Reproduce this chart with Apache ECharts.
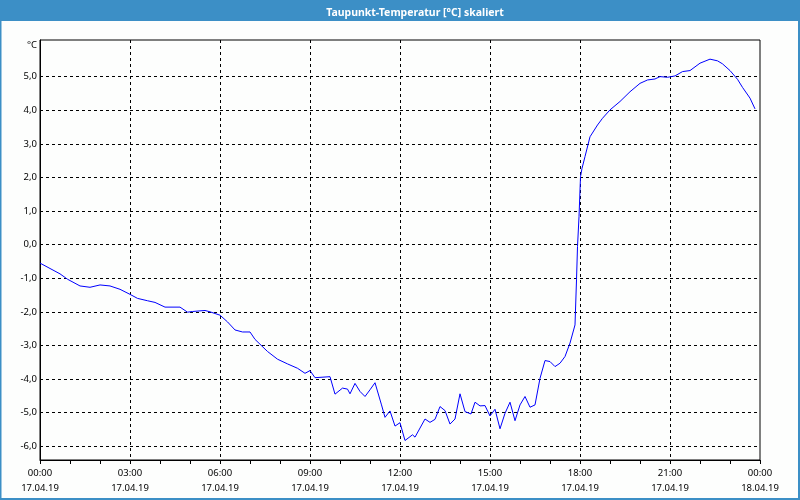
<!DOCTYPE html>
<html>
<head>
<meta charset="utf-8">
<script src="https://cdn.jsdelivr.net/npm/echarts@6/dist/echarts.min.js"></script>
<style>
html,body{margin:0;padding:0;background:#fdfefd;}
#chart{width:800px;height:500px;}
</style>
</head>
<body>
<div id="chart"></div>
<script>
// ---- data ----
const chartTitle = 'Taupunkt-Temperatur [°C] skaliert';
const unitLabel = '°C';
const dayLabels = ['17.04.19', '18.04.19'];
const xTickHours = [0, 3, 6, 9, 12, 15, 18, 21, 24];
const yTickValues = [-6, -5, -4, -3, -2, -1, 0, 1, 2, 3, 4, 5];
const times = [
  '00:00','00:40','00:55','01:20','01:40','02:00','02:20','02:40','03:00','03:15',
  '03:35','03:50','04:10','04:40','04:55','05:05','05:30','05:40','06:00','06:15',
  '06:30','06:45','07:00','07:10','07:35','07:55','08:15','08:35','08:50','09:00',
  '09:10','09:40','09:50','10:05','10:15','10:20','10:30','10:40','10:50','11:00',
  '11:10','11:23','11:30','11:40','11:50','12:00','12:10','12:25','12:30','12:50',
  '13:00','13:10','13:20','13:30','13:40','13:50','14:00','14:10','14:22','14:30',
  '14:40','14:50','15:00','15:10','15:20','15:30','15:40','15:50','16:00','16:10',
  '16:20','16:30','16:40','16:50','17:00','17:10','17:20','17:30','17:40','17:50',
  '17:53','17:55','17:58','18:01','18:04','18:10','18:20','18:35','18:45','19:00',
  '19:20','19:40','20:00','20:15','20:30','20:40','20:55','21:10','21:25','21:40',
  '22:00','22:20','22:35','22:45','23:00','23:15','23:25','23:40','23:50'
];
const dewPoint = [
  -0.55,-0.87,-1.03,-1.23,-1.27,-1.20,-1.23,-1.33,-1.48,-1.60,
  -1.67,-1.72,-1.86,-1.86,-2.01,-1.99,-1.96,-2.00,-2.10,-2.30,
  -2.54,-2.60,-2.60,-2.82,-3.18,-3.41,-3.55,-3.68,-3.83,-3.75,
  -3.96,-3.93,-4.45,-4.27,-4.30,-4.44,-4.13,-4.37,-4.52,-4.32,
  -4.11,-4.77,-5.14,-4.95,-5.40,-5.30,-5.83,-5.66,-5.73,-5.19,
  -5.29,-5.20,-4.82,-4.94,-5.34,-5.19,-4.44,-4.97,-5.04,-4.69,
  -4.80,-4.79,-5.10,-4.90,-5.48,-5.02,-4.69,-5.24,-4.77,-4.52,
  -4.84,-4.77,-3.98,-3.45,-3.48,-3.63,-3.53,-3.33,-2.93,-2.39,
  -1.05,-0.06,0.83,2.02,2.27,2.62,3.21,3.56,3.76,4.01,
  4.26,4.55,4.80,4.90,4.93,5.00,4.98,5.02,5.15,5.18,
  5.40,5.52,5.47,5.38,5.18,4.92,4.68,4.36,4.04
];

// ---- build ----
function toHours(t){ const p = t.split(':'); return (+p[0]) + (+p[1]) / 60; }
const seriesData = times.map((t, i) => [toHours(t), dewPoint[i]]);
const pad = n => (n < 10 ? '0' : '') + n;
const FONT = "'Noto Sans', 'DejaVu Sans', sans-serif";
const TXT = '#000';

const chart = echarts.init(document.getElementById('chart'), null, {renderer: 'canvas'});
chart.setOption({
  backgroundColor: '#fdfefd',
  animation: false,
  graphic: [
    {type: 'rect', shape: {x: 0, y: 0, width: 800, height: 21}, style: {fill: '#3c8fc6'}, z: -1},
    {type: 'rect', shape: {x: 0, y: 0, width: 1.5, height: 500}, style: {fill: '#3c8fc6'}, z: -1},
    {type: 'rect', shape: {x: 798, y: 0, width: 2, height: 500}, style: {fill: '#3c8fc6'}, z: -1},
    {type: 'rect', shape: {x: 0, y: 498, width: 800, height: 2}, style: {fill: '#3c8fc6'}, z: -1}
  ],
  title: {
    text: chartTitle,
    left: 410, top: 3, textAlign: 'center',
    textStyle: {color: '#ffffff', fontFamily: FONT, fontSize: 10.5, fontWeight: 'bold'}
  },
  grid: {left: 40, right: 40, top: 40, bottom: 40, show: true, borderColor: '#000', borderWidth: 1, backgroundColor: 'transparent'},
  xAxis: {
    type: 'value', min: 0, max: 24, interval: 3,
    axisLine: {show: true, onZero: false, lineStyle: {color: '#000', width: 1}},
    axisTick: {show: true, length: 4, lineStyle: {color: '#000'}},
    minorTick: {show: true, splitNumber: 3, length: 4, lineStyle: {color: '#000'}},
    splitLine: {show: true, showMinLine: false, showMaxLine: false, lineStyle: {color: '#000', type: [3, 3], width: 1}},
    axisLabel: {
      margin: 6, lineHeight: 15, color: TXT, fontFamily: FONT, fontSize: 9.5,
      showMinLabel: true, showMaxLabel: true,
      formatter: v => pad(v % 24) + ':00\n' + dayLabels[v >= 24 ? 1 : 0]
    }
  },
  yAxis: {
    type: 'value', min: -6.41, max: 6.09,
    name: unitLabel, nameLocation: 'end', nameGap: -5,
    nameTextStyle: {align: 'right', verticalAlign: 'middle', padding: [0, 3, 0, 0], color: TXT, fontFamily: FONT, fontSize: 9.5},
    axisLine: {show: true, onZero: false, lineStyle: {color: '#000', width: 1}},
    axisTick: {show: false, customValues: yTickValues},
    splitLine: {show: true, lineStyle: {color: '#000', type: [3, 3], width: 1}},
    axisLabel: {
      customValues: yTickValues, margin: 3, color: TXT, fontFamily: FONT, fontSize: 9.5,
      formatter: v => v.toFixed(1).replace('.', ',')
    }
  },
  series: [{
    type: 'line', data: seriesData, showSymbol: false, symbol: 'none',
    lineStyle: {color: '#0000ff', width: 1}, clip: true
  }]
});
</script>
</body>
</html>
